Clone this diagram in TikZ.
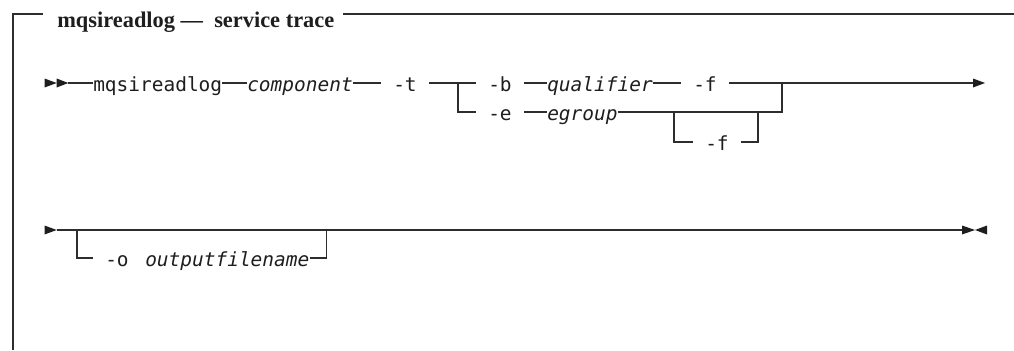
\documentclass[tikz,border=0pt]{standalone}
\usepackage{fontspec}
\newfontfamily\railmono{DejaVu Sans Mono}
\newfontfamily\titleserif[Ligatures=TeX]{Liberation Serif}
\usetikzlibrary{positioning,calc}
\definecolor{railclr}{RGB}{45,45,45}
\definecolor{txtclr}{RGB}{30,30,30}
\tikzset{
  rail/.style={line width=1pt,draw=railclr},
  frame/.style={line width=0.9pt,draw=railclr},
  railtip/.style={fill=txtclr},
  kw/.style={anchor=base west,inner xsep=9pt,inner ysep=0pt,
    font=\railmono\fontsize{14.6}{17}\selectfont,text=txtclr},
  cmd/.style={anchor=base west,inner sep=0pt,
    font=\railmono\fontsize{14.6}{17}\selectfont,text=txtclr},
  var/.style={anchor=base west,inner sep=0pt,
    font=\railmono\fontsize{14.6}{17}\selectfont\itshape,text=txtclr},
  ttl/.style={anchor=base west,inner sep=0pt,
    font={\titleserif\bfseries\fontsize{16.8}{19}\selectfont},text=txtclr},
}
\begin{document}
\begin{tikzpicture}[x=0.75pt,y=-0.75pt]
  \useasboundingbox (0,0) rectangle (1014,350);
  % frame and title
  \node[ttl] (title) at (57,27) {mqsireadlog —\ \ service trace};
  \draw[frame] (43,14) -- (13,14) -- (13,350);
  \draw[frame] (343,14) -- (1014,14);
  % row levels and junctions
  \coordinate (r1) at (0,83);
  \coordinate (r2) at (0,112);
  \coordinate (r3) at (0,142);
  \coordinate (r4) at (0,230);
  \coordinate (r5) at (0,258);
  \coordinate (j1) at (458,83);
  \coordinate (j2) at (782,83);
  \coordinate (j3) at (674,112);
  \coordinate (j4) at (758,112);
  \coordinate (j5) at (77,230);
  \coordinate (j6) at (326.7,230);
  \coordinate (in1) at (68.3,83);
  \coordinate (out1) at (973,83);
  \coordinate (in4) at (56.7,230);
  \coordinate (out4) at (962,230);
  % first line of the syntax
  \node[cmd] (mq) at (93,91.5) {mqsireadlog};
  \node[var] (comp) at (247,91.5) {component};
  \node[kw] (optT) at (381,91.5) {-t};
  \node[kw] (optB) at (476,91.5) {-b};
  \node[var] (qual) at (547,91.5) {qualifier};
  \node[kw] (optF) at (681,91.5) {-f};
  \node[kw] (optE) at (476,120.5) {-e};
  \node[var] (egrp) at (547,120.5) {egroup};
  \node[kw] (optFb) at (693,150.5) {-f};
  \draw[rail] (in1) -- (mq.west |- r1);
  \draw[rail] (mq.east |- r1) -- (comp.west |- r1);
  \draw[rail] (comp.east |- r1) -- (optT.west |- r1);
  \draw[rail] (optT.east |- r1) -- (optB.west |- r1);
  \draw[rail] (j1) -- (j1 |- r2) -- (optE.west |- r2);
  \draw[rail] (optB.east |- r1) -- (qual.west |- r1);
  \draw[rail] (qual.east |- r1) -- (optF.west |- r1);
  \draw[rail] (optF.east |- r1) -- (out1);
  \draw[rail] (optE.east |- r2) -- (egrp.west |- r2);
  \draw[rail] (egrp.east |- r2) -- (j2 |- r2) -- (j2);
  \draw[rail] (j3) -- (j3 |- r3) -- (optFb.west |- r3);
  \draw[rail] (optFb.east |- r3) -- (j4 |- r3) -- (j4);
  % start and continue marks
  \fill[railtip] (44.5,78.5) -- (56.7,83) -- (44.5,87.5) -- cycle;
  \fill[railtip] (56.7,78.5) -- (68.3,83) -- (56.7,87.5) -- cycle;
  \fill[railtip] (out1) ++(0,-4.5) -- (985,83) -- (973,87.5) -- cycle;
  % second line of the syntax
  \node[kw] (optO) at (93,266.5) {-o};
  \node[var] (outfn) at (145,266.5) {outputfilename};
  \draw[rail] (in4) -- (out4);
  \draw[rail] (j5) -- (j5 |- r5) -- (optO.west |- r5);
  \draw[rail] (outfn.east |- r5) -- (j6 |- r5) -- (j6);
  % continue and end marks
  \fill[railtip] (44.5,225.5) -- (56.7,230) -- (44.5,234.5) -- cycle;
  \fill[railtip] (out4) ++(0,-4.5) -- (975,230) -- (962,234.5) -- cycle;
  \fill[railtip] (987,225.5) -- (975,230) -- (987,234.5) -- cycle;
\end{tikzpicture}
\end{document}
